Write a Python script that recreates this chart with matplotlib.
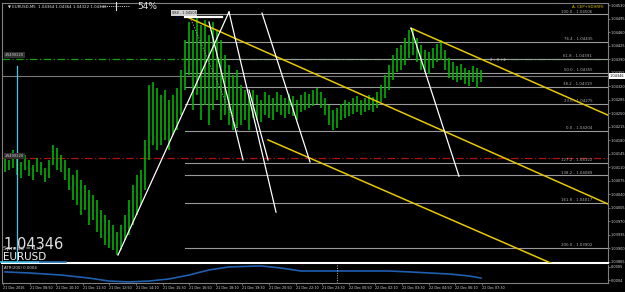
import matplotlib
matplotlib.use("Agg")
import matplotlib.pyplot as plt
from matplotlib.lines import Line2D

# ---------------- data ----------------
symbol = "EURUSD"
header = "\u25bc EURUSD,M5  1.04364 1.04364 1.04322 1.04346"
bid = 1.04346

bar_high_pts = [104142,104129,104155,104134,104124,104142,104129,104116,104134,104124,
104108,104129,104168,104160,104142,104129,104108,104090,104103,104077,
104064,104051,104038,104025,104000,103987,103974,103961,103943,103961,
103987,104025,104064,104090,104103,104181,104323,104331,104315,104297,
104310,104284,104297,104315,104362,104439,104486,104465,104496,104478,
104491,104452,104486,104465,104439,104400,104375,104349,104362,104323,
104310,104297,104310,104297,104284,104305,104297,104289,104305,104297,
104289,104300,104294,104284,104297,104305,104300,104310,104315,104305,
104289,104271,104258,104263,104274,104284,104279,104289,104294,104284,
104289,104297,104292,104305,104323,104349,104375,104400,104419,104426,
104444,104465,104470,104444,104426,104413,104408,104419,104429,104439,
104413,104393,104382,104372,104377,104367,104362,104372,104367,104362]

bar_low_pts = [104098,104103,104108,104090,104082,104103,104087,104077,104098,104090,
104072,104082,104116,104103,104098,104077,104051,104025,104012,103987,
104000,103961,103974,103943,103927,103909,103901,103896,103883,103896,
103922,103935,103961,103987,104012,104051,104129,104168,104155,104168,
104181,104155,104194,104206,104245,104310,104349,104258,104297,104232,
104271,104219,104258,104284,104232,104245,104219,104206,104212,104219,
104232,104206,104238,104232,104227,104245,104238,104232,104253,104245,
104238,104248,104243,104232,104253,104258,104263,104269,104274,104263,
104245,104219,104206,104212,104232,104238,104243,104248,104253,104245,
104253,104258,104253,104263,104279,104289,104310,104336,104357,104362,
104375,104393,104400,104382,104362,104357,104351,104367,104382,104388,
104362,104341,104336,104331,104336,104325,104320,104331,104315,104331]

fib_levels = ["100.0", "76.4", "61.8", "50.0", "38.2", "23.6", "0.0",
              "127.2", "138.2", "161.8", "200.0"]
fib_prices = [1.04506, 1.04435, 1.04391, 1.04355, 1.04319, 1.04275, 1.04204,
              1.04122, 1.04089, 1.04017, 1.03902]
fib_start_bar = 45

green_hline = 1.04390
red_hline = 1.04134

# trend lines: (bar0, price0, bar1, price1)
yellow_lines = [(45.5, 1.04499, 150.75, 1.04015),
                (101.5, 1.04470, 150.75, 1.04245),
                (65.75, 1.04181, 136.5, 1.03862)]
white_lines = [(28.25, 1.03883, 56.0, 1.04512),
               (56.0, 1.04512, 67.75, 1.03994),
               (64.25, 1.04509, 76.25, 1.04124),
               (101.5, 1.04470, 113.5, 1.04087),
               (51.0, 1.04486, 59.5, 1.04129),
               (61.0, 1.04310, 65.75, 1.04129)]
fib_diag = (46.25, 1.04499, 58.25, 1.04204)
top_marker = (45.0, 54.25, 1.04499)
cyan_vline = (3.0, 1.04372)

price_ticks = [1.03865 + 0.00035 * k for k in range(20)]

atr_bars = [0, 6, 14, 21, 26, 31, 36, 41, 46, 51, 56, 64, 69, 74, 81, 89, 96,
            101, 106, 111, 116, 119]
atr_vals = [0.000462, 0.000454, 0.000438, 0.000415, 0.000392, 0.000385,
            0.000392, 0.000408, 0.000438, 0.000477, 0.000500, 0.000508,
            0.000492, 0.000469, 0.000469, 0.000469, 0.000469, 0.000462,
            0.000454, 0.000446, 0.000431, 0.000415]

time_labels = ["21 Dec 2016", "21 Dec 08:50", "21 Dec 10:10", "21 Dec 11:30",
               "21 Dec 12:50", "21 Dec 14:10", "21 Dec 15:30", "21 Dec 16:50",
               "21 Dec 18:10", "21 Dec 19:30", "21 Dec 20:50", "21 Dec 22:10",
               "21 Dec 23:30", "22 Dec 00:50", "22 Dec 02:10", "22 Dec 03:30",
               "22 Dec 04:50", "22 Dec 06:10", "22 Dec 07:30"]
label_step_bars = 6.65

# ---------------- figure ----------------
W, H = 625, 292
fig = plt.figure(figsize=(W / 100, H / 100), dpi=100, facecolor="black")


def fx(x):
    return x / W


def fy(y):
    return 1 - y / H


ax = fig.add_axes([fx(2), 29 / H, 606 / W, 260 / H], facecolor="black")
ax2 = fig.add_axes([fx(2), 9 / H, 606 / W, 18 / H], facecolor="black")

highs = [v / 1e5 for v in bar_high_pts]
lows = [v / 1e5 for v in bar_low_pts]
bars = list(range(len(highs)))

XMIN, XMAX = -0.75, 150.75
ax.set_xlim(XMIN, XMAX)
ax.set_ylim(1.038624, 1.045352)

# full-width horizontal lines
ax.axhline(bid, color="#7a7a7a", lw=0.8, zorder=1)
ax.axhline(green_hline, color="#10a010", lw=0.9, ls=(0, (6, 2, 1, 2)), zorder=1)
ax.axhline(red_hline, color="#b01010", lw=0.9, ls=(0, (6, 2, 1, 2)), zorder=1)

# fibonacci levels
for lvl, p in zip(fib_levels, fib_prices):
    ax.plot([fib_start_bar, XMAX], [p, p], color="#9a9a9a", lw=0.8, zorder=2)
    ax.text(146.8, p + 0.00002, f"{lvl} - {p:.5f}", color="#b0b0b0",
            fontsize=2.8, ha="right", va="bottom", zorder=6)

# bars
ax.vlines(bars, lows, highs, color="#00b400", lw=1.2, zorder=3)

# cyan vertical
ax.plot([cyan_vline[0], cyan_vline[0]], [ax.get_ylim()[0], cyan_vline[1]],
        color="#40c8f0", lw=0.9, zorder=4)

# trend lines
for (b0, p0, b1, p1) in yellow_lines:
    ax.plot([b0, b1], [p0, p1], color="#e8c800", lw=1.1, zorder=5)
for (b0, p0, b1, p1) in white_lines:
    ax.plot([b0, b1], [p0, p1], color="white", lw=0.9, zorder=5)
ax.plot([fib_diag[0], fib_diag[2]], [fib_diag[1], fib_diag[3]], color="#9a9a9a",
        lw=0.8, ls=(0, (1, 1.5)), zorder=5)
ax.plot([top_marker[0], top_marker[1]], [top_marker[2], top_marker[2]],
        color="white", lw=1.6, zorder=5)

# axes styling
for s in ["left", "right", "top"]:
    ax.spines[s].set_color("#808080")
    ax.spines[s].set_linewidth(0.8)
ax.spines["bottom"].set_color("white")
ax.spines["bottom"].set_linewidth(1.5)
ax.set_xticks([])
ax.yaxis.tick_right()
ax.set_yticks(price_ticks)
ax.set_yticklabels([f"{v:.5f}" for v in price_ticks])
ax.tick_params(axis="y", colors="#808080", labelcolor="#d8d8d8", labelsize=2.5,
               length=1.5, width=0.6, pad=0.6)

# subpanel
ax2.plot(atr_bars, atr_vals, color="#1f5fb0", lw=1.2)
ax2.set_xlim(XMIN, XMAX)
ax2.set_ylim(0.000377, 0.000515)
ax2.axvline(83, color="#c0c0c0", lw=0.7, ls=(0, (1, 1.5)))
for s in ["left", "right", "bottom"]:
    ax2.spines[s].set_color("#808080")
    ax2.spines[s].set_linewidth(0.8)
ax2.spines["top"].set_visible(False)
ax2.yaxis.tick_right()
ax2.set_yticks([0.0005, 0.0004])
ax2.set_yticklabels(["0.0005", "0.0004"])
ax2.tick_params(axis="y", colors="#808080", labelcolor="#d8d8d8", labelsize=2.5,
                length=1.5, width=0.6, pad=0.6)
tpos = [-0.5 + label_step_bars * k for k in range(len(time_labels))]
ax2.set_xticks(tpos)
ax2.set_xticklabels(time_labels, ha="left")
ax2.tick_params(axis="x", colors="#808080", labelcolor="#d8d8d8", labelsize=2.4,
                length=1.5, width=0.6, pad=1.0)
ax2.text(0.004, 0.93, "ATR(200) 0.0004", transform=ax2.transAxes,
         color="#d8d8d8", fontsize=2.8, va="top", ha="left")

# texts
fig.text(fx(8), fy(6), header, color="#e0e0e0", fontsize=2.8, va="center")
fig.add_artist(Line2D([fx(100), fx(130)], [fy(6), fy(6)], color="#d0d0d0",
                      lw=0.7, ls=(0, (1, 1.2))))
fig.add_artist(Line2D([fx(116), fx(116)], [fy(2), fy(10)], color="#e0e0e0", lw=0.8))
fig.text(fx(137), fy(6.5), "54%", color="#e0e0e0", fontsize=6.5, va="center")
fig.text(fx(604), fy(7), "A- CEP+SDHRFE", color="#d8c000", fontsize=2.8,
         va="center", ha="right")
fig.text(fx(172), fy(13), "888 - 1.04505", color="#202020", fontsize=2.5,
         va="center", bbox=dict(facecolor="#d0d0d0", edgecolor="none", pad=0.4))
fig.text(fx(490), fy(60), "2 - 3 +2", color="#d0d0d0", fontsize=2.8, va="center")
fig.text(fx(5), fy(55), "#1490220", color="#c8c8c8", fontsize=2.6, va="center",
         bbox=dict(facecolor="#303030", edgecolor="none", pad=0.4))
fig.text(fx(5), fy(156), "#1490220", color="#c8c8c8", fontsize=2.6, va="center",
         bbox=dict(facecolor="#303030", edgecolor="none", pad=0.4))
fig.text(fx(610), fy(76), f"{bid:.5f}", color="black", fontsize=2.5, va="center",
         bbox=dict(facecolor="white", edgecolor="none", pad=0.4))

fig.text(fx(3), fy(249), f"{bid:.5f}", color="#e0e0e0", fontsize=10.5,
         va="baseline")
fig.text(fx(3), fy(250), "Spread = 1.4", color="#d0d0d0", fontsize=4.2,
         va="baseline")
fig.text(fx(3), fy(260), symbol, color="#f0f0f0", fontsize=7.5, va="baseline")
fig.add_artist(Line2D([fx(0), fx(40)], [fy(262), fy(262)], color="#3cb8e8", lw=1.2))
fig.add_artist(Line2D([fx(40), fx(66)], [fy(262), fy(262)], color="#1f6fb0", lw=1.2))

fig.savefig("out.png", dpi=100, facecolor="black")
